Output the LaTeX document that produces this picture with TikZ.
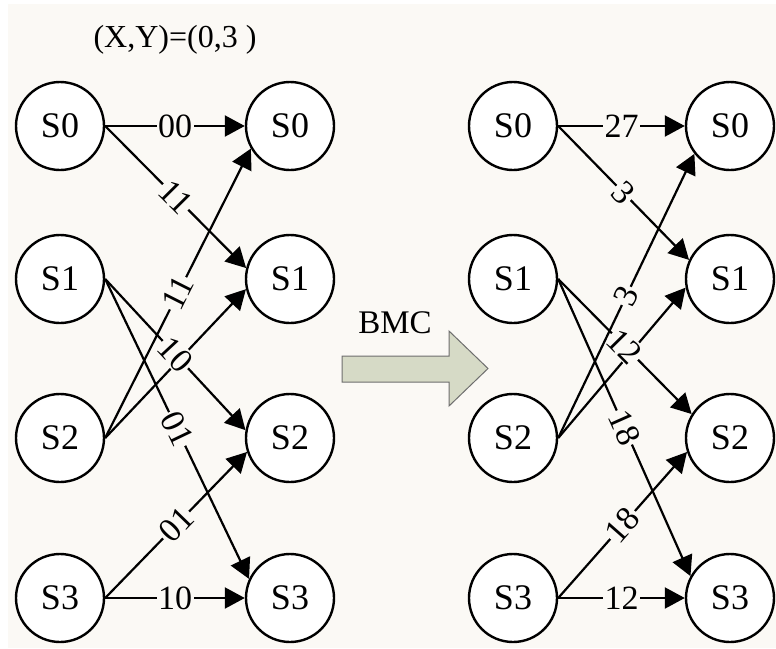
\documentclass[tikz,border=0pt]{standalone}
\usepackage{fontspec}
\setmainfont{Liberation Serif}
\usetikzlibrary{arrows.meta}
\definecolor{paper}{HTML}{FBF9F5}
\definecolor{arrowfill}{HTML}{D6DAC6}
\definecolor{arrowline}{HTML}{6E6E6E}
\begin{document}
\begin{tikzpicture}[x=1pt,y=-1pt,
  state/.style={circle,draw,line width=2.4pt,fill=white,minimum size=88pt,
    inner sep=0pt,font=\fontsize{36}{40}\selectfont},
  edge/.style={line width=2.2pt,-{Triangle[length=20pt,width=21pt]}},
  lbl/.style={fill=paper,inner sep=1.5pt,font=\fontsize{34}{38}\selectfont,
    sloped,pos=0.5},
  caption/.style={font=\fontsize{33}{38}\selectfont,inner sep=0pt}
]
% paper
\fill[white] (0,0) rectangle (776,648);
\fill[paper] (8,4) rectangle (776,648);

% trellis before the metric computation
\node[caption,font=\fontsize{32}{36}\selectfont] (hdr) at (175,40) {(X,Y)=(0,3 )};
\foreach \i/\y in {0/126,1/279,2/438,3/598}{
  \node[state] (L\i) at (60,\y) {S\i};
  \node[state] (M\i) at (290,\y) {S\i};
}
\draw[edge] (L2.east) -- (M1.193);
\draw[edge] (L0.east) -- node[lbl]{00} (M0.west);
\draw[edge] (L0.east) -- node[lbl]{11} (M1.166);
\draw[edge] (L1.east) -- node[lbl]{10} (M2.170);
\draw[edge] (L1.east) -- node[lbl]{01} (M3.155);
\draw[edge] (L2.east) -- node[lbl]{11} (M0.210);
\draw[edge] (L3.east) -- node[lbl]{01} (M2.198);
\draw[edge] (L3.east) -- node[lbl]{10} (M3.west);

% block arrow
\node[caption] (bmc) at (395,323) {BMC};
\draw[arrowline,fill=arrowfill,line width=1pt]
  (342,356) -- (449,356) -- (449,331) -- (488,368.5) -- (449,406)
  -- (449,382) -- (342,382) -- cycle;

% trellis with branch metrics
\foreach \i/\y in {0/126,1/279,2/438,3/598}{
  \node[state] (R\i) at (513,\y) {S\i};
  \node[state] (T\i) at (730,\y) {S\i};
}
\draw[edge] (R2.east) -- (T1.191);
\draw[edge] (R0.east) -- node[lbl]{27} (T0.west);
\draw[edge] (R0.east) -- node[lbl]{3} (T1.155);
\draw[edge] (R1.east) -- node[lbl]{12} (T2.148);
\draw[edge] (R1.east) -- node[lbl]{18} (T3.151);
\draw[edge] (R2.east) -- node[lbl]{3} (T0.218);
\draw[edge] (R3.east) -- node[lbl]{18} (T2.198);
\draw[edge] (R3.east) -- node[lbl]{12} (T3.west);
\end{tikzpicture}
\end{document}
